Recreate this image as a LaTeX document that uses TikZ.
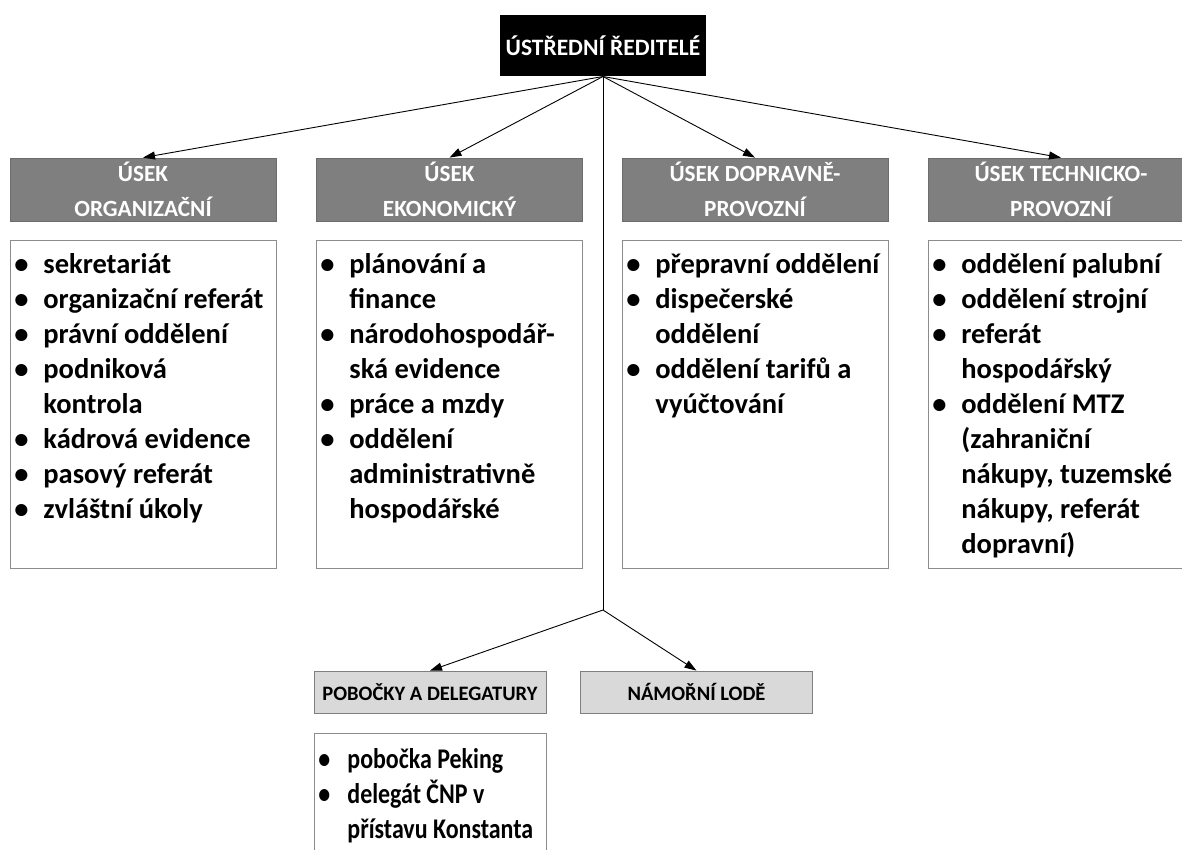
\documentclass[tikz,border=0pt]{standalone}
\usepackage{fontspec}
\setmainfont{Carlito}
\newfontfamily\uzsi[FakeStretch=0.84]{Carlito}
\usetikzlibrary{arrows.meta}

\definecolor{usekgray}{HTML}{7F7F7F}
\definecolor{ramgray}{HTML}{8C8C8C}
\definecolor{svetla}{HTML}{D9D9D9}

\newcommand{\bod}{\makebox[33pt][l]{\hspace{4pt}•}}
\newcommand{\dal}{\hspace*{33pt}}
\newcommand{\seznam}[4]{\parbox[t][#2][t]{#1}{\raggedright\rule{0pt}{#3}#4}}

\begin{document}
\begin{tikzpicture}[x=1pt,y=-1pt,line width=1pt,
  usek/.style={fill=usekgray,draw=usekgray!85!black,line width=.8pt,text=white,
    minimum width=266pt,minimum height=63pt,inner sep=0pt,align=center,
    font=\bfseries\fontsize{23.2}{35}\selectfont},
  pobox/.style={fill=svetla,draw=usekgray,line width=.8pt,
    minimum width=232pt,minimum height=42pt,inner sep=0pt,
    font=\bfseries\fontsize{20.5}{25}\selectfont},
  seznambox/.style={draw=ramgray,line width=.8pt,inner sep=0pt,anchor=north west,
    font=\bfseries\fontsize{28.5}{35}\selectfont},
  sipka/.style={-{Triangle[length=12pt,width=8pt]},line width=.9pt}]
\useasboundingbox (0,0) rectangle (1182,850);
\node[fill=black,text=white,minimum width=206pt,minimum height=61pt,inner sep=0pt,
  font=\bfseries\fontsize{23.5}{27}\selectfont] (reditel) at (603,45.5) {ÚSTŘEDNÍ ŘEDITELÉ};
% useky
\node[usek] (org) at (143,189.5) {ÚSEK\\ORGANIZAČNÍ};
\node[usek] (eko) at (449.5,189.5) {ÚSEK\\EKONOMICKÝ};
\node[usek] (dop) at (755,189.5) {ÚSEK DOPRAVNĚ-\\PROVOZNÍ};
\node[usek] (tech) at (1061,189.5) {ÚSEK TECHNICKO-\\PROVOZNÍ};
% seznamy oddeleni
\node[seznambox] (orgSez) at (10,240) {\seznam{266pt}{328pt}{33pt}{%
  \bod sekretariát\\ \bod organizační referát\\ \bod právní oddělení\\
  \bod podniková\\ \dal kontrola\\ \bod kádrová evidence\\
  \bod pasový referát\\ \bod zvláštní úkoly}};
\node[seznambox] (ekoSez) at (316,240) {\seznam{266pt}{328pt}{33pt}{%
  \bod plánování a\\ \dal finance\\ \bod národohospodář-\\ \dal ská evidence\\
  \bod práce a mzdy\\ \bod oddělení\\ \dal administrativně\\ \dal hospodářské}};
\node[seznambox] (dopSez) at (622,240) {\seznam{266pt}{328pt}{33pt}{%
  \bod \mbox{přepravní oddělení}\\ \bod dispečerské\\ \dal oddělení\\
  \bod oddělení tarifů a\\ \dal vyúčtování}};
\node[seznambox] (techSez) at (928,240) {\seznam{266pt}{328pt}{33pt}{%
  \bod oddělení palubní\\ \bod oddělení strojní\\ \bod referát\\ \dal hospodářský\\
  \bod oddělení MTZ\\ \dal (zahraniční\\ \dal \mbox{nákupy, tuzemské}\\ \dal nákupy, referát\\
  \dal dopravní)}};
% dolni vetev
\coordinate (rozdel) at (603,610);
\node[pobox] (pobocky) at (430,692) {POBOČKY A DELEGATURY};
\node[pobox] (lode) at (696.5,692) {NÁMOŘNÍ LODĚ};
\node[seznambox,font=\uzsi\bfseries\fontsize{28.5}{35}\selectfont] (pobSez) at (314,733)
  {\seznam{232pt}{160pt}{35pt}{%
  \bod pobočka Peking\\ \bod delegát ČNP v\\ \dal \mbox{přístavu Konstanta}}};
\draw[sipka] (reditel.south) -- (org.north);
\draw[sipka] (reditel.south) -- (eko.north);
\draw[sipka] (reditel.south) -- (dop.north);
\draw[sipka] (reditel.south) -- (tech.north);
\draw (reditel.south) -- (rozdel);
\draw[sipka] (rozdel) -- (pobocky.north);
\draw[sipka] (rozdel) -- (lode.north);
\end{tikzpicture}
\end{document}
